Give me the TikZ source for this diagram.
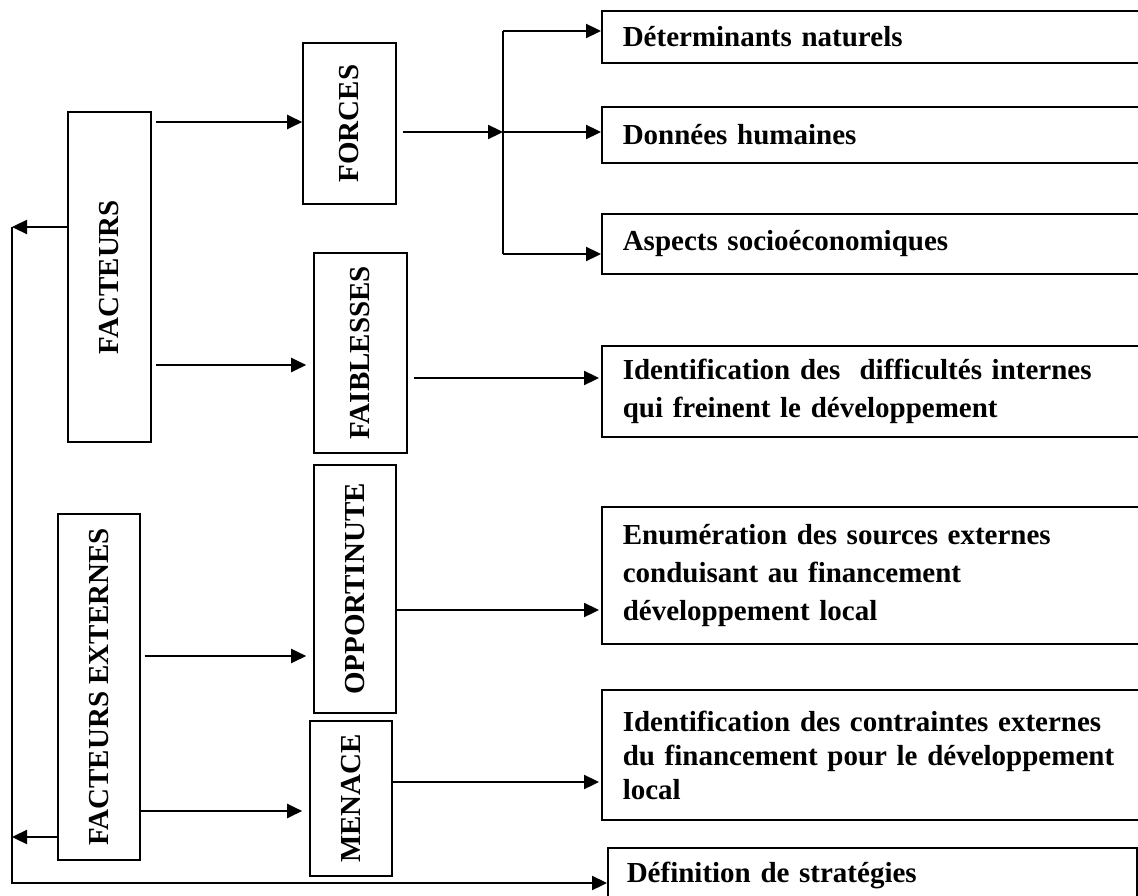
\documentclass[tikz,border=0pt]{standalone}
\usepackage{fontspec}
\setmainfont{Liberation Serif}
\usepackage{graphicx}
\usetikzlibrary{arrows.meta}

\begin{document}
\begin{tikzpicture}[x=1pt,y=-1pt,
  every node/.style={font=\fontsize{29}{38}\selectfont\bfseries},
  vbox/.style={draw,line width=1.6pt,inner sep=0pt},
  hbox/.style={draw,line width=1.6pt,anchor=west,text width=518pt,inner xsep=21pt,inner ysep=0pt,align=left},
  fleche/.style={line width=2.3pt,-{Triangle[length=15pt,width=14pt]}}]
\useasboundingbox (0,0) rectangle (1138,896);

% colonne de gauche
\node[vbox,minimum width=83pt,minimum height=330pt] (fact) at (109.5,277) {\rotatebox{90}{FACTEURS}};
\node[vbox,minimum width=82pt,minimum height=346pt] (factext) at (99,687) {\rotatebox{90}{FACTEURS EXTERNES}};

% forces, faiblesses, opportunites, menaces
\node[vbox,minimum width=93pt,minimum height=161pt] (forces) at (349.5,123.5) {\rotatebox{90}{FORCES}};
\node[vbox,minimum width=93pt,minimum height=200pt] (faibl) at (360.5,353) {\rotatebox{90}{FAIBLESSES}};
\node[vbox,minimum width=82pt,minimum height=248pt] (oppo) at (355,589) {\rotatebox{90}{OPPORTINUTE}};
\node[vbox,minimum width=82pt,minimum height=155pt] (menace) at (351,798.5) {\rotatebox{90}{MENACE}};

% boites de droite
\node[hbox,minimum height=52pt] (det) at (601,37) {D\'eterminants naturels};
\node[hbox,minimum height=56pt] (donnees) at (601,135) {Donn\'ees humaines};
\node[hbox,minimum height=60pt] (aspects) at (601,244) {Aspects socio\'economiques};
\node[hbox,minimum height=91pt] (ident) at (601,391.5) {Identification des~ difficult\'es internes\\ qui freinent le d\'eveloppement};
\node[hbox,minimum height=137pt] (enum) at (601,575.5) {Enum\'eration des sources externes\\ conduisant au financement\\ d\'eveloppement local};
\node[hbox,minimum height=130pt,font=\fontsize{29}{34}\selectfont\bfseries] (contr) at (601,755) {Identification des contraintes externes\\ du financement pour le d\'eveloppement\\ local};
\node[hbox,minimum height=54pt,text width=491pt,inner xsep=19pt] (defin) at (607,875) {D\'efinition de strat\'egies};

% niveaux des fleches
\coordinate (a1) at (0,122);
\coordinate (a2) at (0,365);
\coordinate (a3) at (0,132);
\coordinate (a4) at (0,378);
\coordinate (a5) at (0,656);
\coordinate (a6) at (0,811);
\coordinate (a7) at (0,610);
\coordinate (a8) at (0,782);
\coordinate (j1) at (503,31);
\coordinate (j2) at (503,132);
\coordinate (j3) at (503,254);
\coordinate (fb1) at (12,227);
\coordinate (fb2) at (12,837);
\coordinate (fb3) at (12,883);

\draw[fleche] ([xshift=4pt]fact.east |- a1) -- (forces.west |- a1);
\draw[fleche,shorten >=7pt] ([xshift=4pt]fact.east |- a2) -- (faibl.west |- a2);
\draw[fleche,shorten >=7pt] ([xshift=4pt]factext.east |- a5) -- (oppo.west |- a5);
\draw[fleche,shorten >=7pt] (factext.east |- a6) -- (menace.west |- a6);

\draw[fleche] ([xshift=6pt]forces.east |- a3) -- (j2);
\draw[line width=2.3pt] (j1) -- (j3);
\draw[fleche] (j1) -- (j1 -| det.west);
\draw[fleche] (j2) -- (j2 -| donnees.west);
\draw[fleche] (j3) -- (j3 -| aspects.west);

\draw[fleche,shorten >=2pt] ([xshift=6pt]faibl.east |- a4) -- (ident.west |- a4);
\draw[fleche,shorten >=2pt] ([xshift=-2pt]oppo.east |- a7) -- (enum.west |- a7);
\draw[fleche,shorten >=2pt] ([xshift=-2pt]menace.east |- a8) -- (contr.west |- a8);

% retour vers les strategies
\draw[fleche] (fact.west |- fb1) -- (fb1);
\draw[fleche] (factext.west |- fb2) -- (fb2);
\draw[fleche] (fb1) -- (fb3) -- (defin.west |- fb3);
\end{tikzpicture}
\end{document}
